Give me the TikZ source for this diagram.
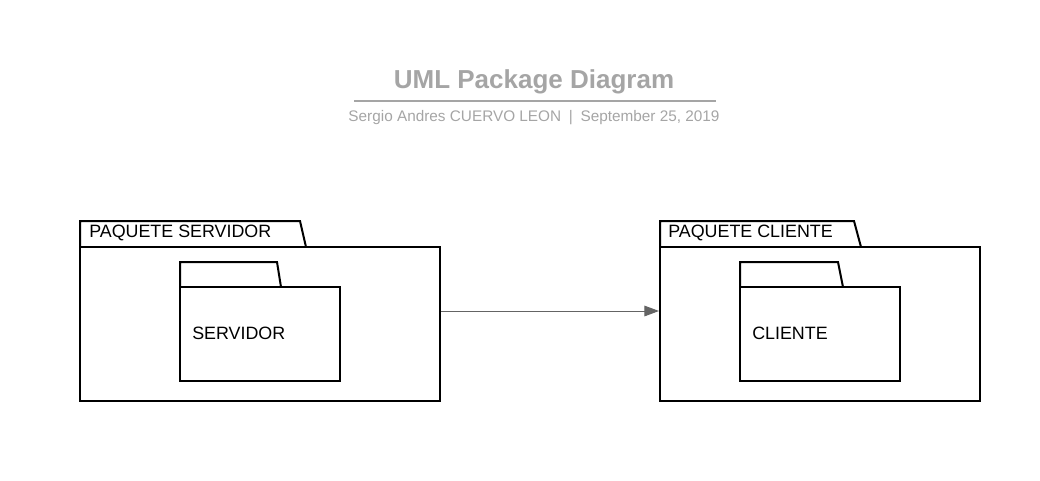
\documentclass[tikz,border=0pt]{standalone}
\usepackage{fontspec}
\setmainfont{Liberation Sans}
\usetikzlibrary{arrows.meta,fit}
\definecolor{titlegray}{RGB}{165,165,165}
\definecolor{arrowgray}{RGB}{100,100,100}
\tikzset{
  pkgline/.style={draw=black, line width=1.5pt, line join=miter},
  pkgbody/.style={pkgline, inner sep=0pt, fit={#1}},
  pkglabel/.style={anchor=west, inner sep=0pt, font=\fontsize{13.4}{15}\selectfont},
  conn/.style={draw=arrowgray, line width=0.75pt, -{Triangle[length=11pt,width=8pt]}},
}
\begin{document}
\begin{tikzpicture}[x=0.75pt,y=-0.75pt]
\useasboundingbox (0,0) rectangle (1040,480);
% title
\node (title) [text=titlegray, font=\bfseries\fontsize{19.5}{22}\selectfont, inner sep=0pt] at (534,82) {UML Package Diagram};
\coordinate (tl) at (354,101);
\coordinate (tr) at (716,101);
\draw[titlegray, line width=1.5pt] (tl) -- (tr);
\node (subtitle) [text=titlegray, font=\fontsize{11.5}{13}\selectfont, inner sep=0pt] at (534,118) {Sergio Andres CUERVO LEON\enspace|\enspace September 25, 2019};

% left package
\draw[pkgline] (80,247) -- (80,221) -- (300,221) -- (306,247);
\node (srvbody) [pkgbody={(80,247) (440,401)}] {};
\node (srvlabel) [pkglabel] at (89,233) {PAQUETE SERVIDOR};
\draw[pkgline] (180,287) -- (180,262) -- (277,262) -- (281,287);
\node (srvin) [pkgbody={(180,287) (340,381)}] {};
\node (srvtext) [pkglabel] at (192,333) {SERVIDOR};

% right package
\draw[pkgline] (660,247) -- (660,221) -- (854,221) -- (861,247);
\node (clibody) [pkgbody={(660,247) (980,401)}] {};
\node (clilabel) [pkglabel] at (668,233) {PAQUETE CLIENTE};
\draw[pkgline] (740,287) -- (740,262) -- (838,262) -- (843,287);
\node (cliin) [pkgbody={(740,287) (900,381)}] {};
\node (clitext) [pkglabel] at (752,333) {CLIENTE};

% connector
\coordinate (arr) at (0,311);
\draw[conn] (srvbody.east |- arr) -- (clibody.west |- arr);
\end{tikzpicture}
\end{document}
